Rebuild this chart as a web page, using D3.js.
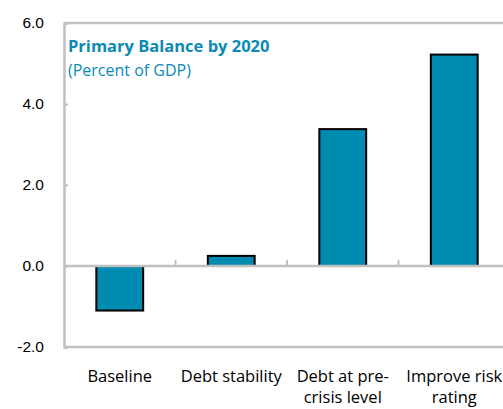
<!DOCTYPE html>
<html>
<head>
<meta charset="utf-8">
<script src="https://cdn.jsdelivr.net/npm/d3@7"></script>
<style>
  body { margin: 0; background: #fff; }
  svg { display: block; font-family: "Open Sans", "Noto Sans", sans-serif; }
</style>
</head>
<body>
<div id="chart"></div>
<script>
// Data ---------------------------------------------------------------------------------------------------------------
const categories = ["Baseline", "Debt stability", "Debt at pre-crisis level", "Improve risk rating"];
const categoryLines = [["Baseline"], ["Debt stability"], ["Debt at pre-", "crisis level"], ["Improve risk", "rating"]];
const values = [-1.1, 0.25, 3.38, 5.22];
const yTicks = [-2, 0, 2, 4, 6];

// Canvas -------------------------------------------------------------------------------------------------------------
const canvasWidth = 503;
const canvasHeight = 409;

const leftPadding = 64;
const rightEdge = 510;
const topPadding = 23;
const bottomEdge = 347;

const axisColor = "#c0c0c0";
const barColor = "#008bb0";
const titleColor = "#0a8ab5";

const svg = d3.select("#chart")
  .append("svg")
  .attr("width", canvasWidth)
  .attr("height", canvasHeight);

const xScale = d3.scaleBand()
  .domain(categories)
  .range([leftPadding, rightEdge])
  .paddingInner(0.58)
  .paddingOuter(0.29);

const xBand = d3.scaleBand()
  .domain(categories)
  .range([leftPadding, rightEdge]);

const yScale = d3.scaleLinear()
  .domain([-2, 6])
  .range([bottomEdge, topPadding]);

// Frame: top border and bottom border
svg.append("line")
  .attr("x1", leftPadding).attr("x2", canvasWidth + 5)
  .attr("y1", yScale(6)).attr("y2", yScale(6))
  .attr("stroke", axisColor).attr("stroke-width", 2.5);
svg.append("line")
  .attr("x1", leftPadding).attr("x2", canvasWidth + 5)
  .attr("y1", yScale(-2)).attr("y2", yScale(-2))
  .attr("stroke", axisColor).attr("stroke-width", 2.5);

// Y axis
const yAxis = svg.append("g")
  .attr("transform", "translate(" + leftPadding + ",0)")
  .call(d3.axisRight(yScale).tickValues(yTicks).tickSize(4).tickFormat(d => d.toFixed(1)));
yAxis.select(".domain")
  .attr("stroke", axisColor)
  .attr("stroke-width", 2.5);
yAxis.selectAll("line")
  .attr("stroke", axisColor)
  .attr("stroke-width", 2);
yAxis.selectAll("text")
  .attr("x", -20)
  .attr("text-anchor", "end")
  .attr("fill", "#000")
  .style("font-size", "15.5px");

// Bars
svg.append("g")
  .selectAll("rect")
  .data(values)
  .join("rect")
  .attr("x", (d, i) => xScale(categories[i]))
  .attr("y", d => yScale(Math.max(0, d)))
  .attr("width", xScale.bandwidth())
  .attr("height", d => Math.abs(yScale(d) - yScale(0)))
  .attr("fill", barColor)
  .attr("stroke", "#000")
  .attr("stroke-width", 2);

// Zero line with category ticks
const xAxis = svg.append("g")
  .attr("transform", "translate(0," + yScale(0) + ")");
xAxis.append("line")
  .attr("x1", leftPadding).attr("x2", canvasWidth + 5)
  .attr("stroke", axisColor).attr("stroke-width", 2.5);
xAxis.selectAll(".cat-tick")
  .data(categories.slice(1))
  .join("line")
  .attr("class", "cat-tick")
  .attr("x1", d => xBand(d)).attr("x2", d => xBand(d))
  .attr("y1", 0).attr("y2", -6)
  .attr("stroke", axisColor).attr("stroke-width", 2);

// Category labels
const labels = svg.append("g")
  .selectAll("text")
  .data(categoryLines)
  .join("text")
  .attr("x", (d, i) => xBand(categories[i]) + xBand.bandwidth() / 2)
  .attr("y", 382)
  .attr("text-anchor", "middle")
  .attr("fill", "#000")
  .style("font-size", "16.5px");
labels.selectAll("tspan")
  .data(d => d)
  .join("tspan")
  .attr("x", function() { return d3.select(this.parentNode).attr("x"); })
  .attr("dy", (d, i) => i === 0 ? 0 : 21)
  .text(d => d);

// Title
svg.append("text")
  .attr("x", 68)
  .attr("y", 52)
  .attr("fill", titleColor)
  .style("font-size", "16.5px")
  .style("font-weight", "bold")
  .text("Primary Balance by 2020");
svg.append("text")
  .attr("x", 68)
  .attr("y", 76)
  .attr("fill", titleColor)
  .style("font-size", "16px")
  .text("(Percent of GDP)");
</script>
</body>
</html>
